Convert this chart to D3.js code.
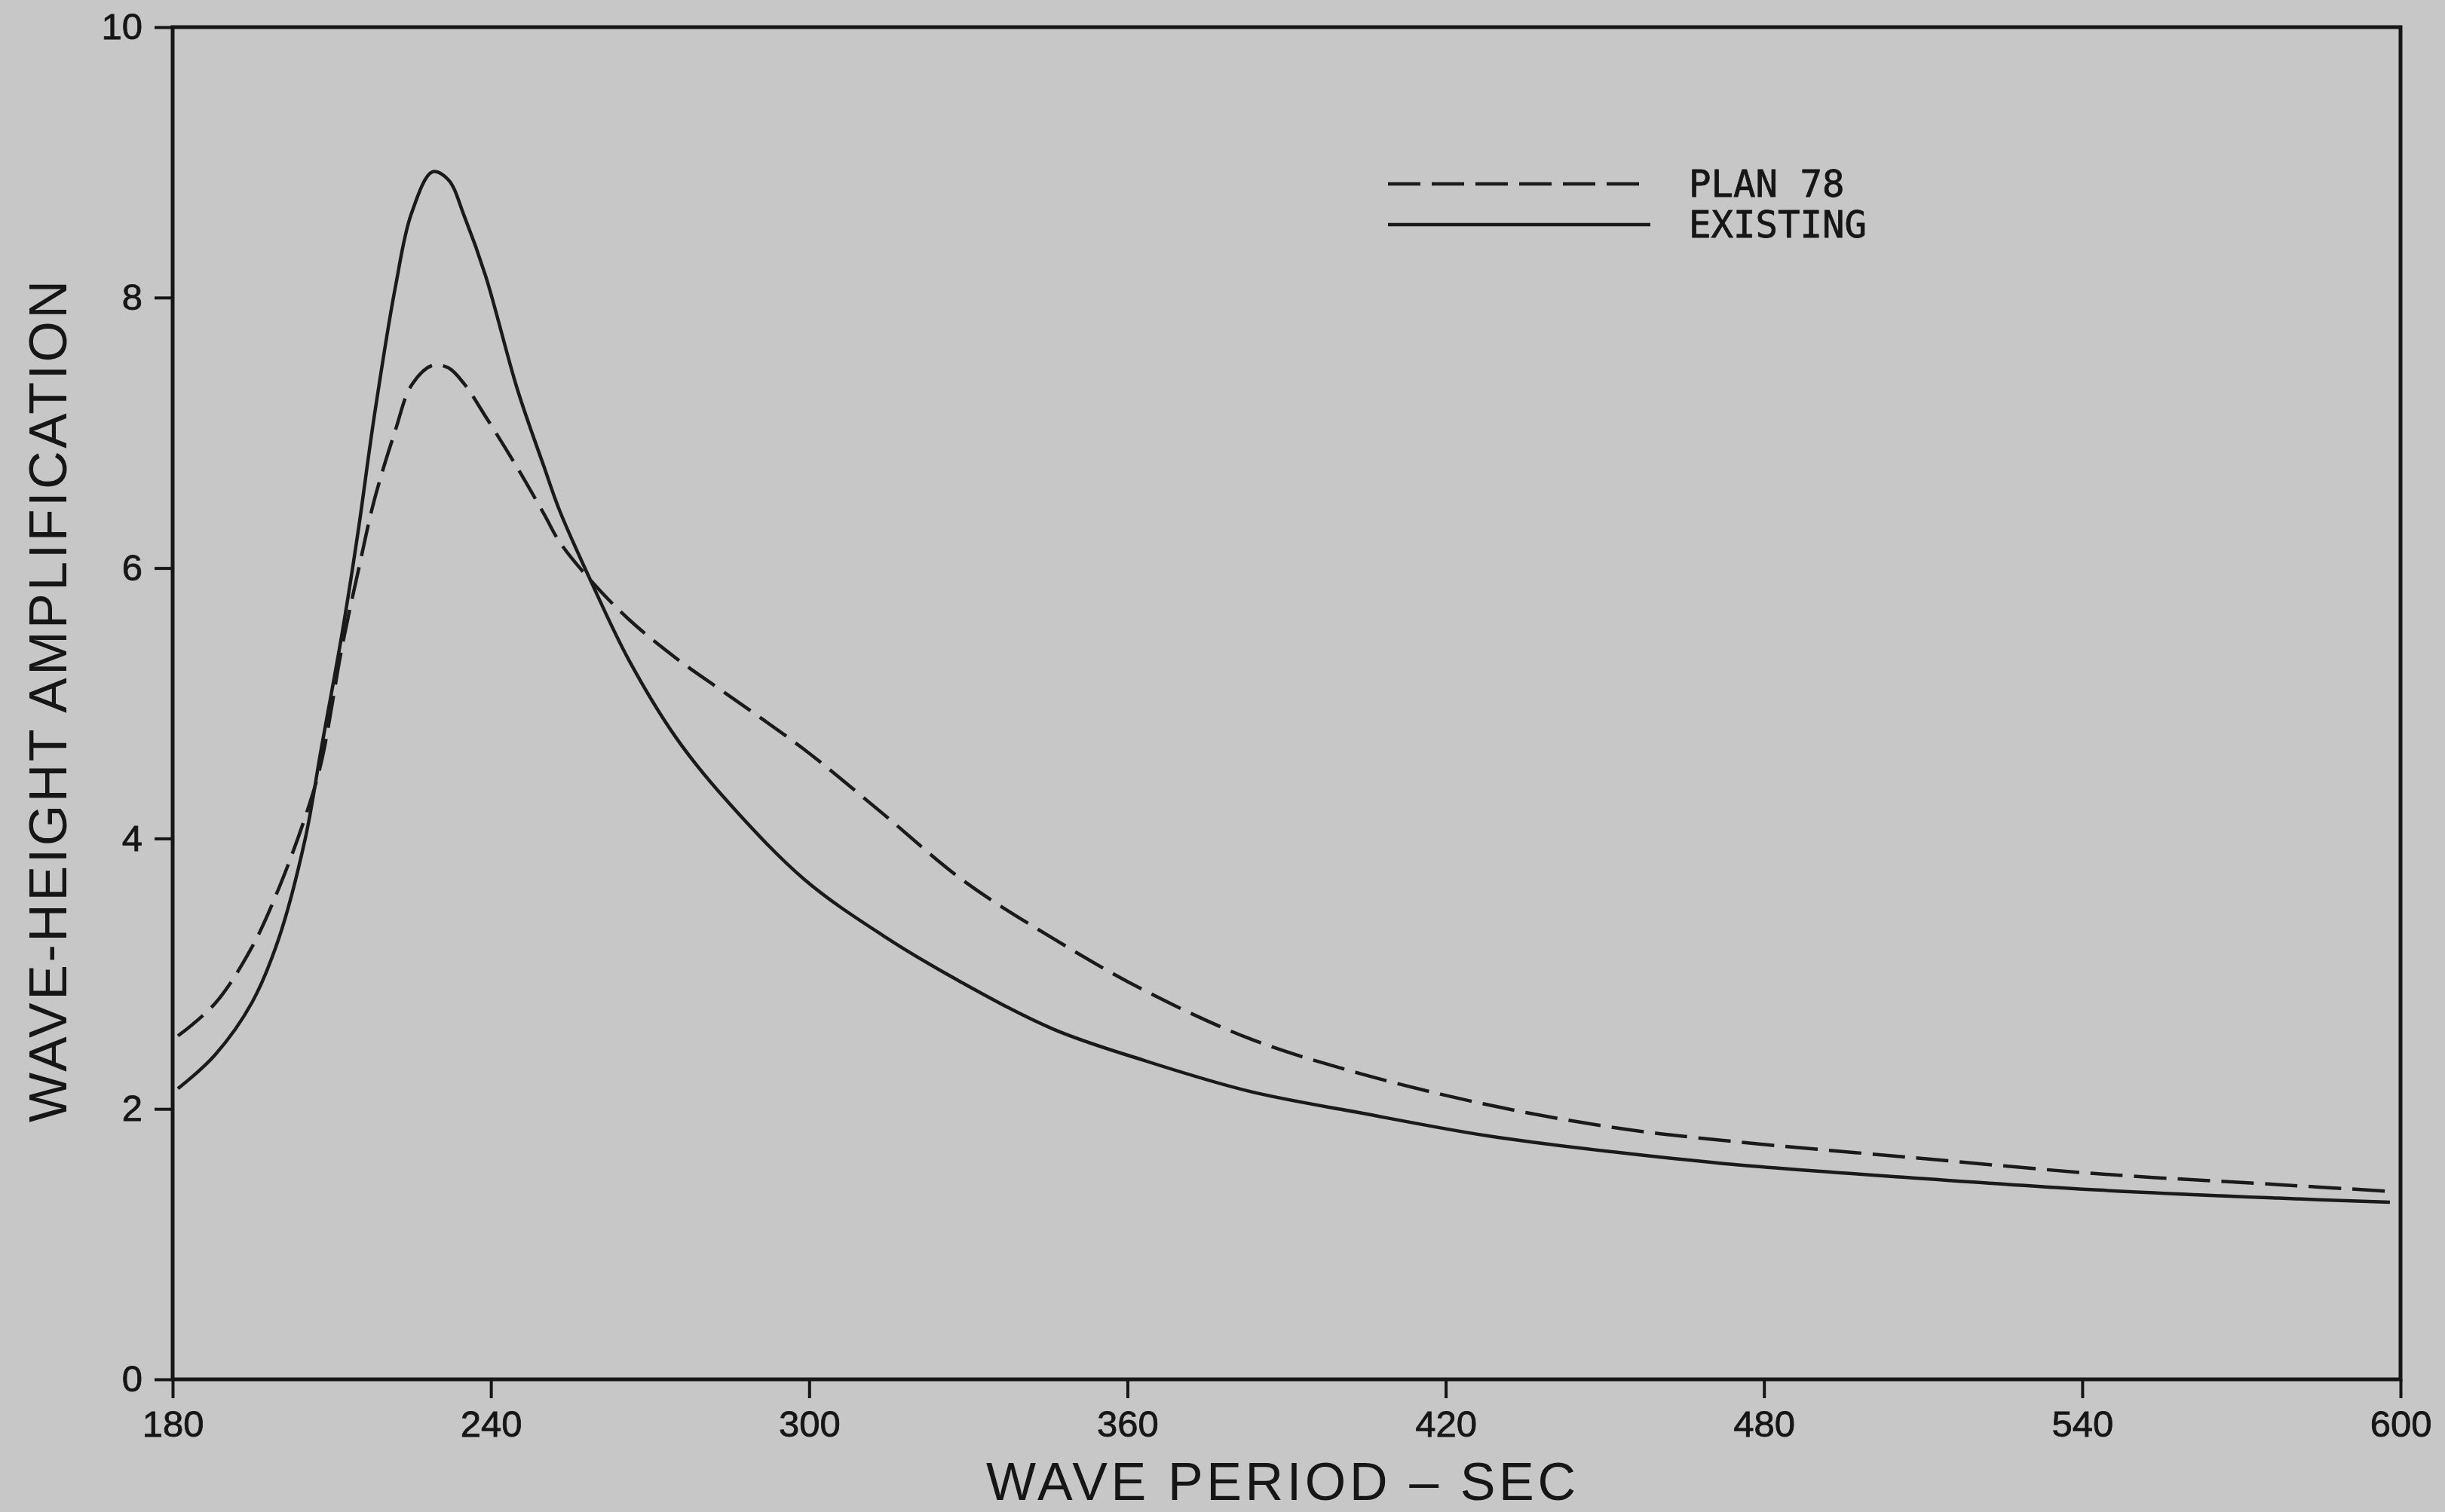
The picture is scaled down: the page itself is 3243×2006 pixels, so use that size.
<!DOCTYPE html>
<html>
<head>
<meta charset="utf-8">
<script src="https://cdn.jsdelivr.net/npm/d3@7"></script>
<style>
    body { margin: 0; background: #c7c7c7; }
    .axis text { font-family: "Liberation Sans", Arial, sans-serif; font-size: 49px; fill: #161616; stroke: #161616; stroke-width: 0.8px; }
    .axis line { stroke: #161616; stroke-width: 4px; }
    .axis path { display: none; }
    .frame { fill: none; stroke: #161616; stroke-width: 5px; }
    .line { fill: none; stroke: #1a1a1a; stroke-width: 4.5px; stroke-linejoin: round; }
    .title { font-family: "Liberation Sans", Arial, sans-serif; font-size: 70px; fill: #161616; }
    .legend text { font-family: "DejaVu Sans Mono", monospace; font-size: 49px; fill: #161616; stroke: #161616; stroke-width: 0.8px; }
</style>
</head>
<body>
<div id="chart"></div>
<script>

// wave period (sec)
var periods = [181, 188, 195, 200, 205, 208, 212, 215, 218, 222, 225, 229, 232, 235, 239, 245, 250, 253,
    259, 266, 275, 284, 299, 314, 329, 346, 363, 383, 404, 428, 452, 474, 508, 543, 577, 598];

// wave-height amplification
var plan78 = [2.54, 2.78, 3.20, 3.63, 4.16, 4.56, 5.43, 5.98, 6.50, 7.02, 7.35, 7.50, 7.48, 7.36, 7.12, 6.74, 6.40, 6.19,
    5.90, 5.62, 5.33, 5.08, 4.66, 4.18, 3.69, 3.26, 2.88, 2.52, 2.26, 2.03, 1.86, 1.76, 1.64, 1.52, 1.44, 1.39];
var existing = [2.15, 2.40, 2.79, 3.26, 4.00, 4.66, 5.53, 6.28, 7.12, 8.08, 8.62, 8.93, 8.87, 8.60, 8.16, 7.32, 6.75, 6.42,
    5.89, 5.32, 4.74, 4.30, 3.70, 3.28, 2.93, 2.59, 2.36, 2.13, 1.97, 1.80, 1.68, 1.59, 1.49, 1.40, 1.34, 1.31];

var seriesNames = ["PLAN 78", "EXISTING"];
var xTicks = [180, 240, 300, 360, 420, 480, 540, 600];
var yTicks = [0, 2, 4, 6, 8, 10];


WaveChart = function(_parentElement){
    this.parentElement = _parentElement;
    this.displayData = [];
    this.initVis();
}

WaveChart.prototype.initVis = function(){
    var vis = this;

    vis.margin = {top: 36, right: 59, bottom: 176, left: 229};
    vis.width = 3243 - vis.margin.left - vis.margin.right;
    vis.height = 2006 - vis.margin.top - vis.margin.bottom;

    vis.svg = d3.select("#" + vis.parentElement).append("svg")
        .attr("width", vis.width + vis.margin.left + vis.margin.right)
        .attr("height", vis.height + vis.margin.top + vis.margin.bottom)
        .append("g")
        .attr("transform", "translate(" + vis.margin.left + "," + vis.margin.top + ")");

    vis.x = d3.scaleLinear().domain([180, 600]).range([0, vis.width]);
    vis.y = d3.scaleLinear().domain([0, 10]).range([vis.height, 0]);

    vis.xAxis = d3.axisBottom(vis.x).tickValues(xTicks).tickSize(25).tickPadding(16);
    vis.yAxis = d3.axisLeft(vis.y).tickValues(yTicks).tickSize(24).tickPadding(16);

    vis.svg.append("g")
        .attr("class", "x-axis axis")
        .attr("transform", "translate(0," + vis.height + ")");

    vis.svg.append("g")
        .attr("class", "y-axis axis");

    vis.svg.append("rect")
        .attr("class", "frame")
        .attr("width", vis.width)
        .attr("height", vis.height);

    // axis titles
    vis.svg.append("text")
        .attr("class", "title")
        .attr("x", 1308 - vis.margin.left)
        .attr("y", 1990 - vis.margin.top)
        .attr("textLength", 782)
        .attr("lengthAdjust", "spacing")
        .text("WAVE PERIOD \u2013 SEC");

    vis.svg.append("text")
        .attr("class", "title")
        .attr("transform", "translate(" + (88 - vis.margin.left) + "," + (1489 - vis.margin.top) + ") rotate(-90)")
        .attr("textLength", 1117)
        .attr("lengthAdjust", "spacing")
        .text("WAVE-HEIGHT AMPLIFICATION");

    vis.line = d3.line()
        .x(function(d) { return vis.x(d.period); })
        .y(function(d) { return vis.y(d.value); })
        .curve(d3.curveCatmullRom.alpha(0.5));

    vis.wrangleData();
}

WaveChart.prototype.wrangleData = function(){
    var vis = this;

    vis.displayData = [
        {name: seriesNames[0], dash: "43,15", values: periods.map(function(p, i) { return {period: p, value: plan78[i]}; })},
        {name: seriesNames[1], dash: null, values: periods.map(function(p, i) { return {period: p, value: existing[i]}; })}
    ];

    vis.updateVis();
}

WaveChart.prototype.updateVis = function(){
    var vis = this;

    vis.svg.selectAll(".line")
        .data(vis.displayData)
        .enter().append("path")
        .attr("class", "line")
        .attr("d", function(d) { return vis.line(d.values); })
        .attr("stroke-dasharray", function(d) { return d.dash; });

    vis.svg.select(".x-axis").call(vis.xAxis);
    vis.svg.select(".y-axis").call(vis.yAxis);
    vis.svg.selectAll(".axis text").attr("font-size", null).attr("font-family", null);

    // legend
    var legend = vis.svg.append("g")
        .attr("class", "legend")
        .attr("transform", "translate(" + (1841 - vis.margin.left) + "," + (244 - vis.margin.top) + ")");

    var items = legend.selectAll(".item")
        .data(vis.displayData)
        .enter().append("g")
        .attr("class", "item")
        .attr("transform", function(d, i) { return "translate(0," + (i * 54) + ")"; });

    items.append("line")
        .attr("class", "line")
        .attr("x1", 0)
        .attr("x2", 348)
        .attr("stroke-dasharray", function(d) { return d.dash; });

    items.append("text")
        .attr("x", 399)
        .attr("y", 17)
        .text(function(d) { return d.name; });
}

var chart = new WaveChart("chart");

</script>
</body>
</html>
